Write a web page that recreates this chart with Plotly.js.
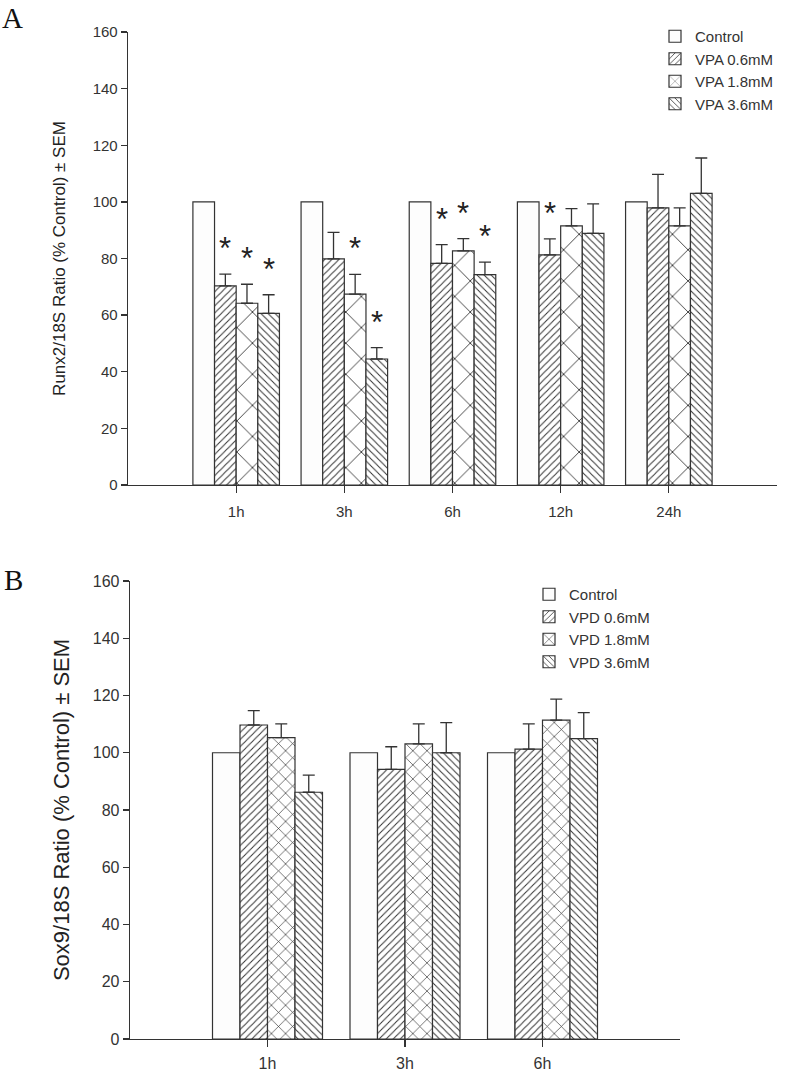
<!DOCTYPE html>
<html>
<head>
<meta charset="utf-8">
<script src="https://cdn.plot.ly/plotly-3.0.1.min.js"></script>
<style>html,body{margin:0;padding:0;background:#fff;}#chart{width:788px;height:1071px;}</style>
</head>
<body>
<div id="chart"></div>
<script>
// ---------- Panel A data (Runx2) ----------
const categoriesA = ['1h', '3h', '6h', '12h', '24h'];
const namesA = ['Control', 'VPA 0.6mM', 'VPA 1.8mM', 'VPA 3.6mM'];
const controlA = [100, 100, 100, 100, 100];
const vpa06A = [70.3, 79.9, 78.3, 81.3, 97.9];
const vpa06ErrA = [4.2, 9.3, 6.6, 5.6, 11.8];
const vpa18A = [64.2, 67.4, 82.7, 91.5, 91.5];
const vpa18ErrA = [6.7, 7.0, 4.3, 6.1, 6.4];
const vpa36A = [60.6, 44.5, 74.3, 88.9, 103.0];
const vpa36ErrA = [6.6, 4.0, 4.4, 10.4, 12.5];
const sig06A = [true, false, true, true, false];
const sig18A = [true, true, true, false, false];
const sig36A = [true, true, true, false, false];

// ---------- Panel B data (Sox9) ----------
const categoriesB = ['1h', '3h', '6h'];
const namesB = ['Control', 'VPD 0.6mM', 'VPD 1.8mM', 'VPD 3.6mM'];
const controlB = [100, 100, 100];
const vpd06B = [109.7, 94.2, 101.3];
const vpd06ErrB = [5.0, 7.9, 8.8];
const vpd18B = [105.3, 103.1, 111.4];
const vpd18ErrB = [4.8, 7.0, 7.3];
const vpd36B = [86.2, 100.0, 104.9];
const vpd36ErrB = [6.0, 10.5, 9.1];

const yTicks = [0, 20, 40, 60, 80, 100, 120, 140, 160];

// ---------- styles ----------
const INK = '#333333';
const BARGAP = 0.2;
const FONT = 'Liberation Sans, Arial, sans-serif';

function errBar(arr, n) {
  return {type: 'data', array: arr, arrayminus: new Array(n).fill(0), symmetric: false,
          color: INK, thickness: 1.3, width: 6, visible: true};
}
function patt(shape, size, sol) {
  return {shape: shape, fgcolor: INK, bgcolor: '#ffffff', size: size, solidity: sol, fillmode: 'replace'};
}
function bar(x, y, name, err, pattern, xa, ya, lg) {
  const t = {type: 'bar', x: x, y: y, name: name, xaxis: xa, yaxis: ya, legend: lg,
    marker: {color: '#fdfdfd', line: {color: INK, width: 1.2}},
    hoverinfo: 'x+y+name'};
  if (pattern) t.marker.pattern = pattern;
  if (err) t.error_y = errBar(err, x.length);
  return t;
}

const data = [
  bar(categoriesA, controlA, namesA[0], null, null, 'x', 'y', 'legend'),
  bar(categoriesA, vpa06A, namesA[1], vpa06ErrA, patt('/', 5, 0.2), 'x', 'y', 'legend'),
  bar(categoriesA, vpa18A, namesA[2], vpa18ErrA, patt('x', 22, 0.08), 'x', 'y', 'legend'),
  bar(categoriesA, vpa36A, namesA[3], vpa36ErrA, patt('\\', 5, 0.2), 'x', 'y', 'legend'),
  bar(categoriesB, controlB, namesB[0], null, null, 'x2', 'y2', 'legend2'),
  bar(categoriesB, vpd06B, namesB[1], vpd06ErrB, patt('/', 5, 0.2), 'x2', 'y2', 'legend2'),
  bar(categoriesB, vpd18B, namesB[2], vpd18ErrB, patt('x', 10, 0.13), 'x2', 'y2', 'legend2'),
  bar(categoriesB, vpd36B, namesB[3], vpd36ErrB, patt('\\', 5, 0.2), 'x2', 'y2', 'legend2')
];

// significance asterisks, positioned in data coordinates of panel A
const annotations = [];
const sigSets = [[vpa06A, vpa06ErrA, sig06A, 1], [vpa18A, vpa18ErrA, sig18A, 2], [vpa36A, vpa36ErrA, sig36A, 3]];
const barFrac = (1 - BARGAP) / 4;
sigSets.forEach(function (s) {
  const vals = s[0], errs = s[1], sig = s[2], k = s[3];
  sig.forEach(function (flag, i) {
    if (!flag) return;
    annotations.push({xref: 'x', yref: 'y', x: i + (k - 1.5) * barFrac, y: vals[i] + errs[i] + 11.5,
      text: '*', showarrow: false, yanchor: 'middle', xanchor: 'center', yshift: -7,
      font: {family: FONT, size: 31, color: '#222'}});
  });
});
annotations.push({xref: 'paper', yref: 'paper', x: 0.0, y: 1.0, xanchor: 'left', yanchor: 'top',
  text: 'A', showarrow: false, font: {family: 'Liberation Serif, DejaVu Serif, serif', size: 29, color: '#111'}});
annotations.push({xref: 'paper', yref: 'paper', x: 0.003, y: 1 - 562 / 1071, xanchor: 'left', yanchor: 'top',
  text: 'B', showarrow: false, font: {family: 'Liberation Serif, DejaVu Serif, serif', size: 29, color: '#111'}});

function xAxis(domain, range, anchor, fs, standoff) {
  return {domain: domain, range: range, anchor: anchor, type: 'category', showgrid: false, zeroline: false,
    showline: true, linecolor: INK, linewidth: 1.3, ticks: 'outside', ticklen: 7, tickwidth: 1.3, tickcolor: INK,
    ticklabelstandoff: standoff, tickfont: {family: FONT, size: fs, color: '#333'}, fixedrange: true};
}
function yAxis(domain, anchor, title, tfs, fs, standoff) {
  return {domain: domain, range: [0, 160], anchor: anchor, tickvals: yTicks, ticktext: yTicks.map(String),
    showgrid: false, zeroline: false, showline: true, linecolor: INK, linewidth: 1.3,
    ticks: 'outside', ticklen: 6, tickwidth: 1.3, tickcolor: INK,
    tickfont: {family: FONT, size: fs, color: '#333'},
    title: {text: title, font: {family: FONT, size: tfs, color: '#222'}, standoff: standoff}, fixedrange: true};
}

const layout = {
  width: 788, height: 1071,
  margin: {l: 0, r: 0, t: 0, b: 0},
  paper_bgcolor: '#ffffff', plot_bgcolor: 'rgba(0,0,0,0)',
  barmode: 'group', bargap: BARGAP, bargroupgap: 0,
  showlegend: true,
  xaxis: xAxis([128 / 788, 777 / 788], [-1.0, 5.0], 'y', 15, 6),
  yaxis: yAxis([1 - 485 / 1071, 1 - 32 / 1071], 'x', 'Runx2/18S Ratio (% Control) \u00b1 SEM', 17, 15, 22),
  xaxis2: xAxis([130 / 788, 680 / 788], [-1.0, 3.0], 'y2', 16, 2),
  yaxis2: yAxis([1 - 1039 / 1071, 1 - 581 / 1071], 'x2', 'Sox9/18S Ratio (% Control) \u00b1 SEM', 22, 16, 17),
  legend: {x: 655 / 788, y: 1 - 20 / 1071, xanchor: 'left', yanchor: 'top', bgcolor: 'rgba(0,0,0,0)',
    font: {family: FONT, size: 15, color: '#333'}, tracegroupgap: 0, itemwidth: 30, traceorder: 'normal'},
  legend2: {x: 529 / 788, y: 1 - 578 / 1071, xanchor: 'left', yanchor: 'top', bgcolor: 'rgba(0,0,0,0)',
    font: {family: FONT, size: 15, color: '#333'}, tracegroupgap: 0, itemwidth: 30, traceorder: 'normal'},
  annotations: annotations
};

Plotly.newPlot('chart', data, layout, {displayModeBar: false, staticPlot: true});
</script>
</body>
</html>
